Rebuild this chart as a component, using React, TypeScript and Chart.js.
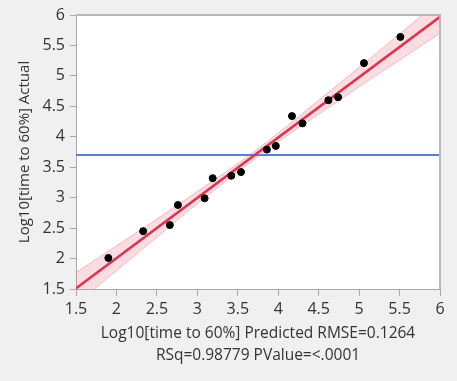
import React, { useEffect, useRef } from "react";
import { Chart, registerables } from "chart.js";

Chart.register(...registerables);

// Observed points (predicted, actual)
const predicted = [1.9, 2.33, 2.66, 2.76, 3.09, 3.19, 3.42, 3.54, 3.86, 3.97, 4.17, 4.3, 4.62, 4.74, 5.06, 5.51];
const actual = [2.01, 2.45, 2.55, 2.88, 2.99, 3.32, 3.36, 3.42, 3.79, 3.85, 4.34, 4.22, 4.6, 4.65, 5.21, 5.64];

// Fit line end points
const fitX = [1.5, 6];
const fitY = [1.51, 5.97];

// Mean of actual
const meanY = 3.7;

// Confidence band
const bandX = [1.5, 2, 2.5, 3, 3.5, 3.7, 4, 4.5, 5, 5.5, 6];
const bandUpper = [1.77, 2.21, 2.65, 3.1, 3.56, 3.755, 4.06, 4.6, 5.14, 5.69, 6.24];
const bandLower = [1.25, 1.8, 2.35, 2.9, 3.42, 3.625, 3.92, 4.37, 4.82, 5.26, 5.7];

const axisMin = 1.5;
const axisMax = 6;
const axisStep = 0.5;

const xTitle = ["Log10[time to 60%] Predicted RMSE=0.1264", "RSq=0.98779 PValue=<.0001"];
const yTitle = "Log10[time to 60%] Actual";

const FONT = "'Open Sans', 'Noto Sans', sans-serif";

const fmt = (v: any) => String(+Number(v).toFixed(2));

export default function App() {
  const ref = useRef<HTMLCanvasElement>(null);

  useEffect(() => {
    document.body.style.margin = "0";
    document.body.style.background = "#f0f0f0";
    const canvas = ref.current!;
    const framePlugin = {
      id: "frame",
      beforeDraw(chart: any) {
        const { ctx, chartArea: a } = chart;
        ctx.save();
        ctx.fillStyle = "#f0f0f0";
        ctx.fillRect(0, 0, chart.width, chart.height);
        ctx.fillStyle = "#ffffff";
        ctx.fillRect(a.left, a.top, a.right - a.left, a.bottom - a.top);
        ctx.restore();
      },
      afterDraw(chart: any) {
        const { ctx, chartArea: a } = chart;
        ctx.save();
        ctx.strokeStyle = "#b8b8b8";
        ctx.lineWidth = 2;
        ctx.beginPath();
        ctx.moveTo(a.left, a.top);
        ctx.lineTo(a.right, a.top);
        ctx.lineTo(a.right, a.bottom);
        ctx.stroke();
        ctx.restore();
      },
    };

    const chart = new Chart(canvas, {
      type: "scatter",
      data: {
        datasets: [
          {
            type: "line",
            data: bandX.map((x, i) => ({ x, y: bandUpper[i] })),
            borderColor: "rgba(225,90,110,0.35)",
            borderWidth: 1,
            backgroundColor: "rgba(235,120,140,0.25)",
            fill: "+1",
            pointRadius: 0,
            tension: 0.3,
            clip: 0,
            order: 5,
          } as any,
          {
            type: "line",
            data: bandX.map((x, i) => ({ x, y: bandLower[i] })),
            borderColor: "rgba(225,90,110,0.35)",
            borderWidth: 1,
            backgroundColor: "transparent",
            fill: false,
            pointRadius: 0,
            tension: 0.3,
            clip: 0,
            order: 5,
          } as any,
          {
            type: "line",
            data: [
              { x: axisMin, y: meanY },
              { x: axisMax, y: meanY },
            ],
            borderColor: "#5a7fd4",
            borderWidth: 2,
            pointRadius: 0,
            fill: false,
            clip: 0,
            order: 4,
          } as any,
          {
            type: "line",
            data: fitX.map((x, i) => ({ x, y: fitY[i] })),
            borderColor: "#dc3550",
            borderWidth: 2.5,
            pointRadius: 0,
            fill: false,
            clip: 0,
            order: 3,
          } as any,
          {
            data: predicted.map((x, i) => ({ x, y: actual[i] })),
            backgroundColor: "#000000",
            borderColor: "#000000",
            pointRadius: 3.5,
            order: 1,
          },
        ],
      },
      options: {
        responsive: false,
        animation: false,
        devicePixelRatio: 1,
        layout: { padding: { top: 15, right: 17, left: 0, bottom: 0 } },
        plugins: {
          legend: { display: false },
          tooltip: { enabled: false },
        },
        scales: {
          x: {
            type: "linear",
            min: axisMin,
            max: axisMax,
            ticks: {
              stepSize: axisStep,
              color: "#333333",
              font: { family: FONT, size: 16 },
              padding: 4,
              maxRotation: 0,
              callback: fmt,
            },
            grid: { drawOnChartArea: false, drawTicks: true, tickLength: 7, color: "#a8a8a8" },
            border: { color: "#a8a8a8", width: 1 },
            title: {
              display: true,
              text: xTitle,
              color: "#333333",
              font: { family: FONT, size: 15.5, lineHeight: 1.42 },
              padding: { top: 0, bottom: 14 },
            },
            afterFit(scale: any) {
              scale.height = 92;
            },
          },
          y: {
            type: "linear",
            min: axisMin,
            max: axisMax,
            ticks: {
              stepSize: axisStep,
              color: "#333333",
              font: { family: FONT, size: 16 },
              padding: 5,
              callback: fmt,
            },
            grid: { drawOnChartArea: false, drawTicks: true, tickLength: 6, color: "#a8a8a8" },
            border: { color: "#a8a8a8", width: 1 },
            title: {
              display: true,
              text: yTitle,
              color: "#333333",
              font: { family: FONT, size: 15 },
              padding: { top: 16, bottom: 0 },
            },
            afterFit(scale: any) {
              scale.width = 76;
            },
          },
        },
      },
      plugins: [framePlugin],
    });
    return () => chart.destroy();
  }, []);

  return <canvas ref={ref} width={457} height={381} style={{ display: "block" }} />;
}
